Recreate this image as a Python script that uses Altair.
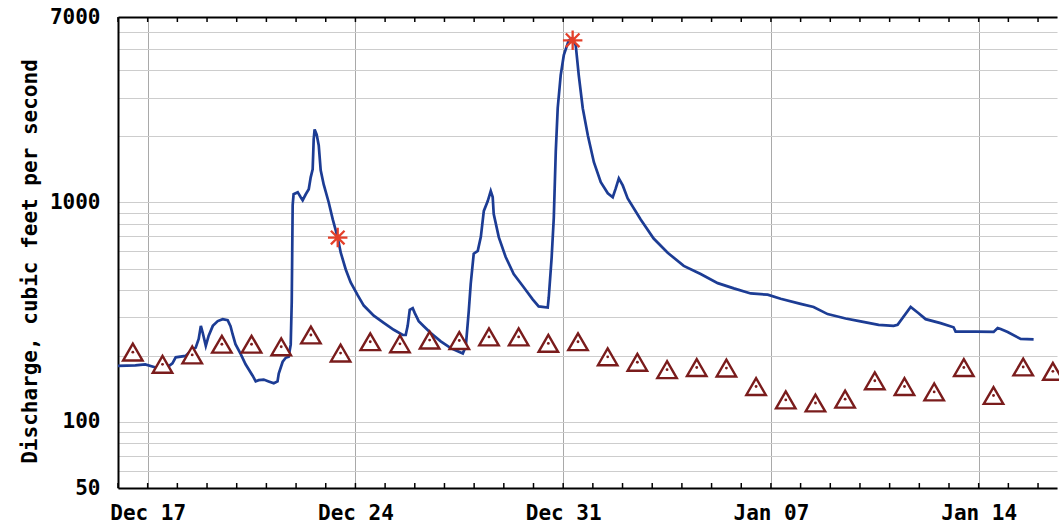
import altair as alt
import pandas as pd

# ---- discharge (15-min record, traced) ----
line_times = [
    "2022-12-16T00:00", "2022-12-16T14:00", "2022-12-16T22:00", "2022-12-17T06:30", "2022-12-17T14:30",
    "2022-12-17T20:00", "2022-12-17T22:40", "2022-12-18T06:40", "2022-12-18T10:50", "2022-12-18T14:50",
    "2022-12-18T17:15", "2022-12-18T19:00", "2022-12-18T20:30", "2022-12-18T23:00", "2022-12-19T01:20",
    "2022-12-19T04:40", "2022-12-19T08:40", "2022-12-19T12:40", "2022-12-19T16:40", "2022-12-19T19:00",
    "2022-12-19T20:40", "2022-12-19T23:00", "2022-12-20T03:10", "2022-12-20T07:10", "2022-12-20T13:00",
    "2022-12-20T15:20", "2022-12-20T17:45", "2022-12-20T21:50", "2022-12-21T01:50", "2022-12-21T06:00",
    "2022-12-21T09:00", "2022-12-21T10:00", "2022-12-21T13:10", "2022-12-21T15:40", "2022-12-21T18:00",
    "2022-12-21T19:40", "2022-12-21T20:30", "2022-12-21T21:15", "2022-12-21T22:00", "2022-12-22T01:20",
    "2022-12-22T03:45", "2022-12-22T05:20", "2022-12-22T07:50", "2022-12-22T10:15", "2022-12-22T11:50",
    "2022-12-22T13:25", "2022-12-22T14:15", "2022-12-22T15:00", "2022-12-22T16:40", "2022-12-22T18:20",
    "2022-12-22T19:55", "2022-12-22T22:20", "2022-12-23T02:25", "2022-12-23T05:40", "2022-12-23T09:40",
    "2022-12-23T12:05", "2022-12-23T16:10", "2022-12-23T20:10", "2022-12-24T01:55", "2022-12-24T06:45",
    "2022-12-24T14:50", "2022-12-24T22:55", "2022-12-25T07:00", "2022-12-25T14:15", "2022-12-25T16:40",
    "2022-12-25T18:15", "2022-12-25T19:55", "2022-12-25T22:20", "2022-12-25T23:55", "2022-12-26T03:10",
    "2022-12-26T07:15", "2022-12-26T12:55", "2022-12-26T21:00", "2022-12-27T05:05", "2022-12-27T10:45",
    "2022-12-27T14:50", "2022-12-27T17:15", "2022-12-27T19:40", "2022-12-27T21:15", "2022-12-27T23:40",
    "2022-12-28T02:55", "2022-12-28T05:25", "2022-12-28T07:50", "2022-12-28T11:00", "2022-12-28T13:25",
    "2022-12-28T15:00", "2022-12-28T15:50", "2022-12-28T19:55", "2022-12-29T01:30", "2022-12-29T08:00",
    "2022-12-29T16:05", "2022-12-29T23:20", "2022-12-30T04:10", "2022-12-30T11:30", "2022-12-30T12:20",
    "2022-12-30T14:40", "2022-12-30T16:25", "2022-12-30T18:00", "2022-12-30T19:35", "2022-12-30T22:00",
    "2022-12-31T00:30", "2022-12-31T04:30", "2022-12-31T07:15", "2022-12-31T10:10", "2022-12-31T12:35",
    "2022-12-31T15:50", "2022-12-31T19:55", "2023-01-01T00:50", "2023-01-01T06:25", "2023-01-01T12:05",
    "2023-01-01T16:05", "2023-01-01T18:30", "2023-01-01T21:00", "2023-01-02T00:10", "2023-01-02T04:10",
    "2023-01-02T14:40", "2023-01-03T01:10", "2023-01-03T12:30", "2023-01-04T01:30", "2023-01-04T15:10",
    "2023-01-05T05:00", "2023-01-05T18:00", "2023-01-06T07:40", "2023-01-06T21:20", "2023-01-07T07:50",
    "2023-01-08T00:00", "2023-01-08T10:30", "2023-01-08T21:50", "2023-01-09T12:25", "2023-01-10T00:30",
    "2023-01-10T15:05", "2023-01-11T03:10", "2023-01-11T06:25", "2023-01-11T17:00", "2023-01-11T23:25",
    "2023-01-12T05:05", "2023-01-12T17:10", "2023-01-13T03:40", "2023-01-13T05:20", "2023-01-13T21:30",
    "2023-01-14T12:05", "2023-01-14T15:20", "2023-01-14T17:45", "2023-01-14T23:25", "2023-01-15T09:55",
    "2023-01-15T20:25",
]
line_values = [
    180, 181, 183, 177, 175,
    185, 197, 200, 211, 218,
    239, 274, 255, 222, 247,
    274, 288, 294, 291, 273,
    251, 226, 204, 183, 162,
    153, 155, 156, 153, 150,
    153, 166, 188, 196, 198,
    225, 353, 973, 1091, 1114,
    1057, 1024, 1090, 1148, 1302,
    1416, 1937, 2151, 2040, 1818,
    1400, 1208, 1000, 837, 692,
    592, 495, 432, 377, 339,
    305, 283, 263, 249, 249,
    274, 324, 330, 314, 288,
    273, 254, 233, 217, 210,
    205, 221, 321, 427, 584,
    602, 697, 915, 1015, 1127,
    1058, 886, 695, 564, 472,
    411, 362, 336, 332, 369,
    561, 853, 1701, 2695, 3805,
    4690, 5480, 5600, 5200, 3800,
    2689, 2024, 1526, 1237, 1101,
    1056, 1159, 1287, 1196, 1043,
    836, 685, 590, 514, 472,
    429, 406, 385, 380, 364,
    345, 334, 310, 296, 287,
    277, 274, 277, 334, 313,
    294, 282, 270, 258, 258,
    257, 268, 265, 257, 239,
    238,
]

# ---- daily median values (triangles, at noon) ----
median_values = [208, 183, 202, 226, 226, 220, 249, 206, 232, 227, 236, 235, 244, 244, 228, 232,
                 198, 187, 173, 177, 176, 145, 126, 122, 127, 154, 145, 137, 177, 132, 178, 170]
median_times = [(pd.Timestamp("2022-12-16T12:00") + pd.Timedelta(days=i)).strftime("%Y-%m-%dT%H:%M")
                for i in range(len(median_values))]

# ---- measured discharge (stars) ----
meas_times = ["2022-12-23T09:40", "2022-12-31T07:40"]
meas_values = [692, 5480]

# ---- axis labels / ticks ----
week_ticks = [alt.DateTime(year=2022, month=12, date=17), alt.DateTime(year=2022, month=12, date=24),
              alt.DateTime(year=2022, month=12, date=31), alt.DateTime(year=2023, month=1, date=7),
              alt.DateTime(year=2023, month=1, date=14)]
day_ticks = [(pd.Timestamp("2022-12-16") + pd.Timedelta(days=i)).strftime("%Y-%m-%dT%H:%M") for i in range(32)]
y_grid = [50, 60, 70, 80, 90, 100, 200, 300, 400, 500, 600, 700, 800, 900,
          1000, 2000, 3000, 4000, 5000, 6000, 7000]
y_labels = [50, 100, 1000, 7000]

df_line = pd.DataFrame({"time": line_times, "value": line_values})
df_med = pd.DataFrame({"time": median_times, "value": median_values})
df_meas = pd.DataFrame({"time": meas_times, "value": meas_values})
df_days = pd.DataFrame({"time": day_ticks})

W, H = 939, 471
FONT = "DejaVu Sans Mono"

x_scale = alt.Scale(domain=[alt.DateTime(year=2022, month=12, date=16),
                            alt.DateTime(year=2023, month=1, date=16, hours=15, minutes=20)])
y_scale = alt.Scale(type="log", domain=[50, 7000], nice=False, zero=False)

label_test = " || ".join(f"datum.value == {v}" for v in y_labels)
y_enc = alt.Y("value:Q", scale=y_scale, axis=alt.Axis(
    values=y_grid, format="d", labelExpr=f"({label_test}) ? datum.label : ''",
    grid=True, gridColor="#cdcdcd", gridWidth=1, ticks=False, tickSize=0,
    domain=True, domainColor="black", domainWidth=2,
    labelFont=FONT, labelFontSize=21, labelFontWeight="bold", labelColor="black",
    labelPadding=18, labelOverlap=False, labelFlush=False, labelBound=False,
    title="Discharge, cubic feet per second", titleFont=FONT, titleFontSize=21,
    titleFontWeight="bold", titleColor="black", titleAngle=270, titleAlign="center",
    titleBaseline="alphabetic", titleX=-82, titleY=244))

x_main = alt.X("time:T", scale=x_scale, axis=alt.Axis(
    values=week_ticks, format="%b %d", grid=True, gridColor="#a9a9a9", gridWidth=1,
    ticks=False, tickSize=0, domain=True, domainColor="black", domainWidth=2,
    labelFont=FONT, labelFontSize=21, labelFontWeight="bold", labelColor="black",
    labelPadding=14, labelOverlap=False, labelFlush=False, title=None))

x_plain = alt.X("time:T", scale=x_scale, axis=None)

line = alt.Chart(df_line).mark_line(color="#1c3c94", strokeWidth=2.7, clip=True).encode(x=x_main, y=y_enc)

tri = alt.Chart(df_med).mark_point(shape="triangle-up", size=380, fill="white", fillOpacity=1,
                                   stroke="#7a1c1c", strokeWidth=2.4, opacity=1).encode(x=x_plain, y=y_enc)
dots = alt.Chart(df_med).mark_point(shape="circle", size=8, filled=True, color="#7a1c1c",
                                    opacity=1).encode(x=x_plain, y=y_enc)

star_path = "M0,-1L0,1M-1,0L1,0M-0.7,-0.7L0.7,0.7M-0.7,0.7L0.7,-0.7"
stars = alt.Chart(df_meas).mark_point(shape=star_path, size=380, filled=False, stroke="#e4402a",
                                      strokeWidth=2.3, opacity=1).encode(x=x_plain, y=y_enc)

ticks_bottom = alt.Chart(df_days).mark_rule(color="black", strokeWidth=1.5).encode(
    x=x_plain, y=alt.value(H - 5), y2=alt.value(H))
ticks_top = alt.Chart(df_days).mark_rule(color="black", strokeWidth=1.5).encode(
    x=alt.X("time:T", scale=x_scale, axis=alt.Axis(
        orient="top", labels=False, ticks=False, grid=False, domain=True,
        domainColor="black", domainWidth=2, title=None)),
    y=alt.value(0), y2=alt.value(5))

chart = alt.layer(line, tri, dots, stars, ticks_bottom, ticks_top).resolve_axis(
    x="independent"
).properties(
    width=W, height=H,
    autosize=alt.AutoSizeParams(type="none"),
    padding={"left": 118, "top": 17, "right": 2, "bottom": 41},
    background="white",
).configure_view(stroke=None)

chart.save("out.html", embed_options={"renderer": "svg", "actions": False})
